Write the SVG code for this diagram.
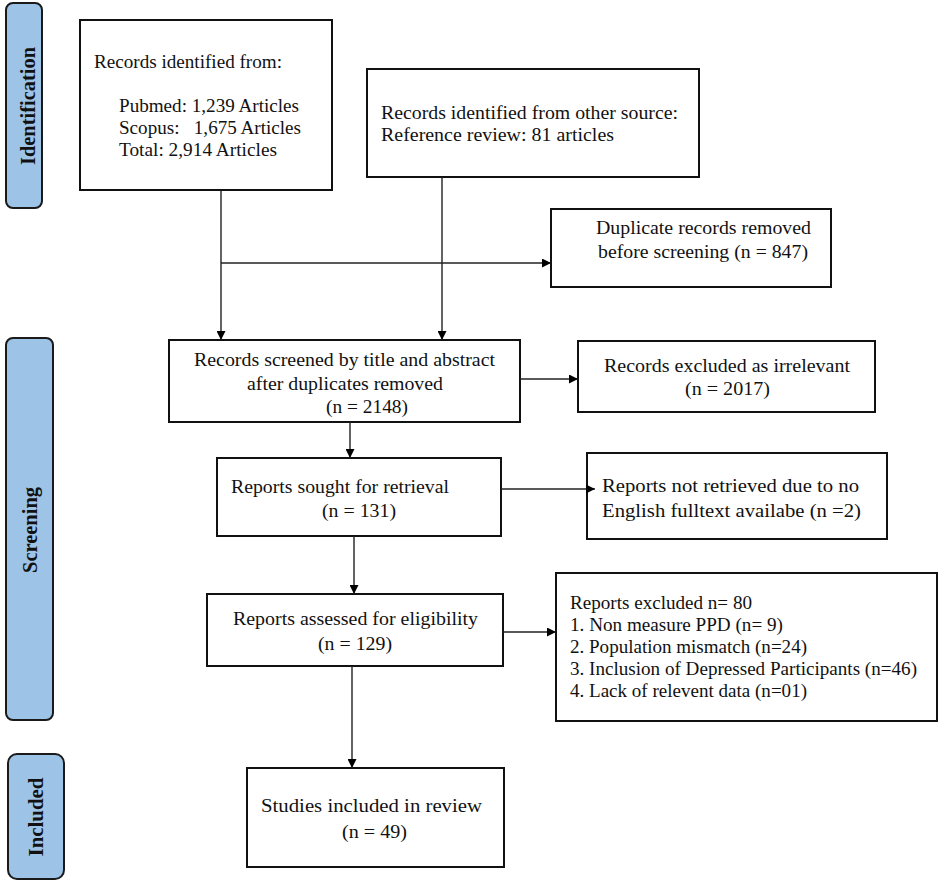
<svg xmlns="http://www.w3.org/2000/svg" width="944" height="885" viewBox="0 0 944 885">
<defs>
<marker id="ah" viewBox="0 0 10 10" refX="10" refY="5" markerWidth="10" markerHeight="9" markerUnits="userSpaceOnUse" orient="auto">
<path d="M0,0 L10,5 L0,10 z" fill="#000"/>
</marker>
<style>
.box{fill:#fff;stroke:#111;stroke-width:2}
.pill{fill:#9dc3e6;stroke:#1a1a1a;stroke-width:2}
.t{font-family:"Liberation Serif","Times New Roman",serif;font-size:18.5px;fill:#111}
.lab{font-family:"Liberation Serif","Times New Roman",serif;font-size:20px;font-weight:bold;fill:#111}
.c{fill:none;stroke:#222;stroke-width:1.4}
</style>
</defs>
<rect width="944" height="885" fill="#fff"/>

<g id="phase-identification">
<rect class="pill" x="6" y="3" width="36" height="205" rx="7"/>
<text class="lab" transform="translate(35,106) rotate(-90)" text-anchor="middle" textLength="118" lengthAdjust="spacingAndGlyphs">Identification</text>
</g>
<g id="phase-screening">
<rect class="pill" x="6" y="338" width="47" height="382" rx="7"/>
<text class="lab" transform="translate(37,530) rotate(-90)" text-anchor="middle" textLength="86" lengthAdjust="spacingAndGlyphs">Screening</text>
</g>
<g id="phase-included">
<rect class="pill" x="8" y="754" width="56" height="125" rx="9"/>
<text class="lab" transform="translate(43,817) rotate(-90)" text-anchor="middle" textLength="79" lengthAdjust="spacingAndGlyphs">Included</text>
</g>

<g id="records-identified">
<rect class="box" x="80" y="20" width="252" height="170"/>
<text class="t" x="94" y="68" textLength="188" lengthAdjust="spacingAndGlyphs">Records identified from:</text>
<text class="t" x="119" y="112" textLength="180" lengthAdjust="spacingAndGlyphs">Pubmed: 1,239 Articles</text>
<text class="t" x="119" y="134" textLength="182" lengthAdjust="spacingAndGlyphs" xml:space="preserve">Scopus:   1,675 Articles</text>
<text class="t" x="119" y="156" textLength="158" lengthAdjust="spacingAndGlyphs">Total: 2,914 Articles</text>
</g>

<g id="records-other-source">
<rect class="box" x="367" y="69" width="332" height="108"/>
<text class="t" x="381" y="119" textLength="297" lengthAdjust="spacingAndGlyphs">Records identified from other source:</text>
<text class="t" x="381" y="141" textLength="233" lengthAdjust="spacingAndGlyphs">Reference review: 81 articles</text>
</g>

<g id="duplicates-removed">
<rect class="box" x="551" y="209" width="280" height="78"/>
<text class="t" x="596" y="234" textLength="215" lengthAdjust="spacingAndGlyphs">Duplicate records removed</text>
<text class="t" x="598" y="258" textLength="210" lengthAdjust="spacingAndGlyphs">before screening (n = 847)</text>
</g>

<g id="records-screened">
<rect class="box" x="169" y="340" width="351" height="82"/>
<text class="t" x="194" y="366" textLength="301" lengthAdjust="spacingAndGlyphs">Records screened by title and abstract</text>
<text class="t" x="247" y="390" textLength="196" lengthAdjust="spacingAndGlyphs">after duplicates removed</text>
<text class="t" x="326" y="413" textLength="82" lengthAdjust="spacingAndGlyphs">(n = 2148)</text>
</g>

<g id="records-excluded">
<rect class="box" x="578" y="341" width="297" height="71"/>
<text class="t" x="604" y="372" textLength="246" lengthAdjust="spacingAndGlyphs">Records excluded as irrelevant</text>
<text class="t" x="685" y="395" textLength="85" lengthAdjust="spacingAndGlyphs">(n = 2017)</text>
</g>

<g id="reports-sought">
<rect class="box" x="217" y="458" width="284" height="78"/>
<text class="t" x="231" y="493" textLength="218" lengthAdjust="spacingAndGlyphs">Reports sought for retrieval</text>
<text class="t" x="322" y="517" textLength="74" lengthAdjust="spacingAndGlyphs">(n = 131)</text>
</g>

<g id="reports-not-retrieved">
<rect class="box" x="587" y="453" width="300" height="86"/>
<text class="t" x="602" y="492" textLength="257" lengthAdjust="spacingAndGlyphs">Reports not retrieved due to no</text>
<text class="t" x="602" y="517" textLength="259" lengthAdjust="spacingAndGlyphs">English fulltext availabe (n =2)</text>
</g>

<g id="reports-assessed">
<rect class="box" x="207" y="594" width="296" height="72"/>
<text class="t" x="233" y="625" textLength="245" lengthAdjust="spacingAndGlyphs">Reports assessed for eligibility</text>
<text class="t" x="318" y="650" textLength="74" lengthAdjust="spacingAndGlyphs">(n = 129)</text>
</g>

<g id="reports-excluded">
<rect class="box" x="556" y="573" width="381" height="148"/>
<text class="t" x="570" y="609" textLength="182" lengthAdjust="spacingAndGlyphs">Reports excluded n= 80</text>
<text class="t" x="570" y="631" textLength="213" lengthAdjust="spacingAndGlyphs">1. Non measure PPD (n= 9)</text>
<text class="t" x="570" y="653" textLength="237" lengthAdjust="spacingAndGlyphs">2. Population mismatch (n=24)</text>
<text class="t" x="570" y="675" textLength="347" lengthAdjust="spacingAndGlyphs">3. Inclusion of Depressed Participants (n=46)</text>
<text class="t" x="570" y="697" textLength="237" lengthAdjust="spacingAndGlyphs">4. Lack of relevent data (n=01)</text>
</g>

<g id="studies-included">
<rect class="box" x="247" y="768" width="257" height="99"/>
<text class="t" x="261" y="812" textLength="221" lengthAdjust="spacingAndGlyphs">Studies included in review</text>
<text class="t" x="342" y="838" textLength="65" lengthAdjust="spacingAndGlyphs">(n = 49)</text>
</g>

<g id="connectors">
<line class="c" x1="221" y1="191" x2="221" y2="340" marker-end="url(#ah)"/>
<line class="c" x1="442" y1="177" x2="442" y2="340" marker-end="url(#ah)"/>
<line class="c" x1="221" y1="263" x2="551" y2="263" marker-end="url(#ah)"/>
<line class="c" x1="520" y1="379" x2="578" y2="379" marker-end="url(#ah)"/>
<line class="c" x1="350" y1="422" x2="350" y2="458" marker-end="url(#ah)"/>
<line class="c" x1="501" y1="489" x2="595" y2="489" marker-end="url(#ah)"/>
<line class="c" x1="354" y1="536" x2="354" y2="594" marker-end="url(#ah)"/>
<line class="c" x1="503" y1="632" x2="556" y2="632" marker-end="url(#ah)"/>
<line class="c" x1="352" y1="666" x2="352" y2="768" marker-end="url(#ah)"/>
</g>
</svg>
